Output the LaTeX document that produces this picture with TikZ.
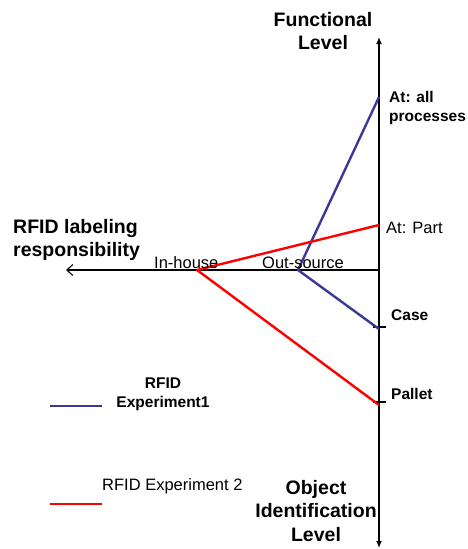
\documentclass[tikz,border=0pt]{standalone}
\usepackage{fontspec}
\setmainfont{Liberation Sans}
\usetikzlibrary{arrows.meta}
\definecolor{expblue}{RGB}{58,58,150}
\definecolor{expred}{RGB}{255,0,0}
\begin{document}
\begin{tikzpicture}[x=1pt,y=-1pt,
  axis/.style={line width=1.3pt},
  exp1/.style={expblue,line width=2.4pt,line join=round},
  exp2/.style={expred,line width=2.4pt,line join=round},
  head/.style={font=\fontsize{19.5}{23.5}\selectfont\bfseries, align=center, inner sep=0pt},
  lbl/.style={font=\fontsize{16.5}{19}\selectfont, inner sep=0pt, anchor=west, align=left},
  blbl/.style={lbl, font=\fontsize{15.5}{19}\selectfont\bfseries}]
\useasboundingbox (0,0) rectangle (467,549);
% axis points
\coordinate (top) at (379,37);
\coordinate (bot) at (379,548);
\coordinate (orig) at (379,270);
\coordinate (left) at (66,270);
\coordinate (allp) at (379,97);
\coordinate (part) at (379,225);
\coordinate (case) at (379,329);
\coordinate (pallet) at (379,405);
\coordinate (out) at (298,270);
\coordinate (inh) at (197,270);
% axes
\draw[axis,-{Latex[length=7pt,width=6pt]}] (orig) -- (top);
\draw[axis,-{Latex[length=7pt,width=6pt]}] (orig) -- (bot);
\draw[line width=1.1pt,-{Straight Barb[length=6pt,width=11pt,line width=1.1pt]}] (orig) -- (left);
\draw[axis] ([xshift=-6pt,yshift=2pt]case) -- ([xshift=7pt,yshift=2pt]case);
\draw[axis] ([xshift=-6pt,yshift=3pt]pallet) -- ([xshift=7pt,yshift=3pt]pallet);
% experiments
\draw[exp1] (allp) -- (out) -- (case);
\draw[exp2] (part) -- (inh) -- (pallet);
% headings
\node[head] (func) at (323,31) {Functional\\Level};
\node[head] (obj) at (316,511) {Object\\Identification\\Level};
\node[head, align=left, anchor=west] (resp) at (13,240) {RFID labeling\\responsibility};
% axis labels
\node[blbl] (lallp) at (389,108) {At: all\\processes};
\node[lbl] (lpart) at (386,228) {At: Part};
\node[blbl] (lcase) at (391,315) {Case};
\node[blbl] (lpallet) at (391,394) {Pallet};
\node[lbl] (linh) at (154,263) {In-house};
\node[lbl] (lout) at (262,263) {Out-source};
% legend
\coordinate (l1a) at (50,406);
\coordinate (l1b) at (102,406);
\coordinate (l2a) at (50,504);
\coordinate (l2b) at (102,504);
\draw[exp1,line width=2pt] (l1a) -- (l1b);
\draw[exp2,line width=2pt] (l2a) -- (l2b);
\node[blbl, anchor=center, align=center] (leg1) at (163,394) {RFID\\Experiment1};
\node[lbl] (leg2) at (102,486) {RFID Experiment 2};
\end{tikzpicture}
\end{document}
